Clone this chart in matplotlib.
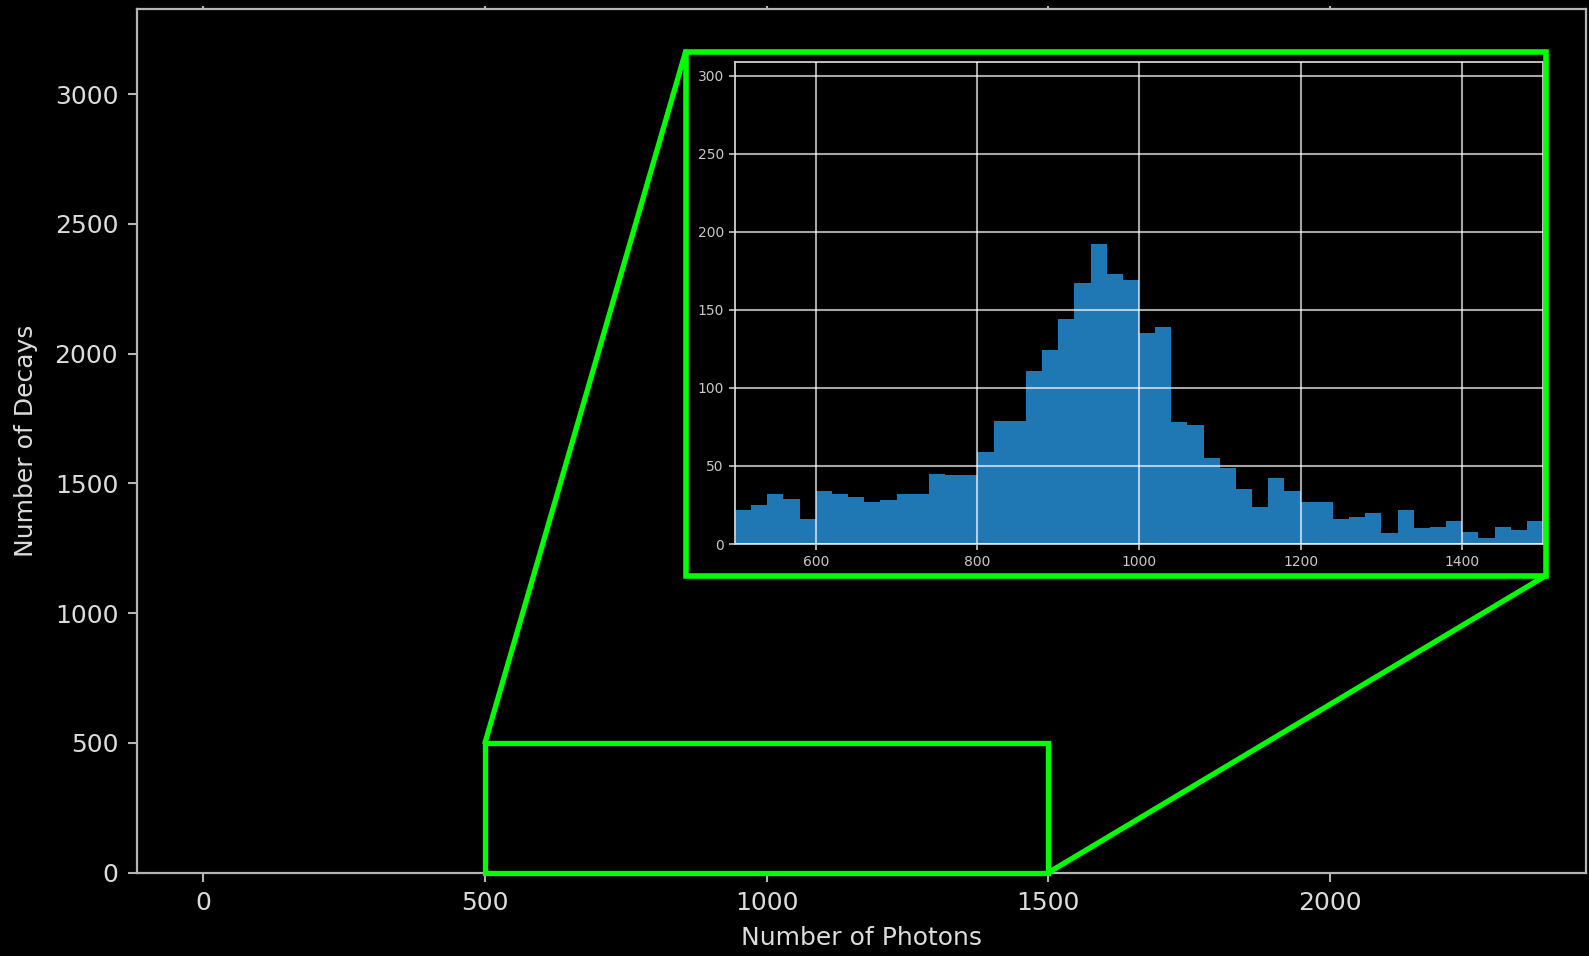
import numpy as np
import matplotlib
matplotlib.use("Agg")
import matplotlib.pyplot as plt
from matplotlib.patches import Rectangle, ConnectionPatch

# Photon-count histogram (counts per 20-photon bin, 500..1500)
bin_edges = np.arange(500, 1501, 20)
decay_counts = [22, 25, 32, 29, 16, 34, 32, 30, 27, 28,
                32, 32, 45, 44, 44, 59, 79, 79, 111, 124,
                144, 167, 192, 173, 169, 135, 139, 78, 76, 55,
                49, 35, 24, 42, 34, 27, 27, 16, 17, 20,
                7, 22, 10, 11, 15, 8, 4, 11, 9, 15]

main_xticks = [0, 500, 1000, 1500, 2000]
main_yticks = [0, 500, 1000, 1500, 2000, 2500, 3000]
inset_xticks = [600, 800, 1000, 1200, 1400]
inset_yticks = [0, 50, 100, 150, 200, 250, 300]
zoom_x = (500, 1500)
zoom_y = (0, 500)

W, H = 1589, 956
fig = plt.figure(figsize=(W / 100, H / 100), dpi=100, facecolor="black")

text_col = "#dcdcdc"
spine_col = "#b4b4b4"
green = "#00ff00"

# ---- main axes -------------------------------------------------------------
ax = fig.add_axes([137 / W, 1 - 872.6 / H, (1585.7 - 137) / W, (872.6 - 9.3) / H])
ax.set_facecolor("black")
ax.set_xlim(-117.7, 2453.7)
ax.set_ylim(0, 3327)
ax.set_xticks(main_xticks)
ax.set_yticks(main_yticks)
for s in ax.spines.values():
    s.set_color(spine_col)
    s.set_linewidth(1.6)
ax.tick_params(axis="both", colors=spine_col, labelcolor=text_col,
               labelsize=18, length=6.5, width=1.5, pad=7)
ax.tick_params(axis="x", top=True, direction="out")
for t in ax.xaxis.get_major_ticks():
    t.tick2line.set_markersize(2)
ax.set_xlabel("Number of Photons", color=text_col, fontsize=18, labelpad=8)
ax.set_ylabel("Number of Decays", color=text_col, fontsize=18, labelpad=12)

# zoomed region marker
ax.add_patch(Rectangle((zoom_x[0], zoom_y[0]), zoom_x[1] - zoom_x[0],
                       zoom_y[1] - zoom_y[0], fill=False,
                       edgecolor=green, linewidth=3.8, zorder=5, clip_on=False))

# ---- inset axes ------------------------------------------------------------
ax_in = fig.add_axes([735 / W, 1 - 544 / H, (1543 - 735) / W, (544 - 61.7) / H])
ax_in.set_facecolor("black")
ax_in.bar(bin_edges[:-1], decay_counts, width=np.diff(bin_edges),
          align="edge", color="#1f77b4", linewidth=0)
ax_in.set_xlim(*zoom_x)
ax_in.set_ylim(0, 309)
ax_in.set_xticks(inset_xticks)
ax_in.set_yticks(inset_yticks)
ax_in.set_axisbelow(False)
ax_in.grid(True, color="white", alpha=0.65, linewidth=1.5)
for s in ax_in.spines.values():
    s.set_color("#d0d0d0")
    s.set_linewidth(1.3)
ax_in.tick_params(axis="both", colors="#c8c8c8", labelcolor="#c8c8c8",
                  labelsize=10, length=4, width=1.2, pad=4)

# frame around the inset
fl, fr, ft, fb = 685.5, 1546, 52, 575.5
fig.patches.append(Rectangle((fl / W, 1 - fb / H), (fr - fl) / W, (fb - ft) / H,
                             transform=fig.transFigure, fill=False,
                             edgecolor=green, linewidth=4.0, zorder=10))

# connector lines from the marked region to the frame
for (xa, ya), (xb, yb) in [((zoom_x[0], zoom_y[1]), (fl / W, 1 - ft / H)),
                           ((zoom_x[1], zoom_y[0]), (fr / W, 1 - fb / H))]:
    con = ConnectionPatch(xyA=(xa, ya), coordsA=ax.transData,
                          xyB=(xb, yb), coordsB=fig.transFigure,
                          color=green, linewidth=3.8, zorder=10)
    fig.add_artist(con)

fig.savefig("out.png", dpi=100, facecolor="black")
